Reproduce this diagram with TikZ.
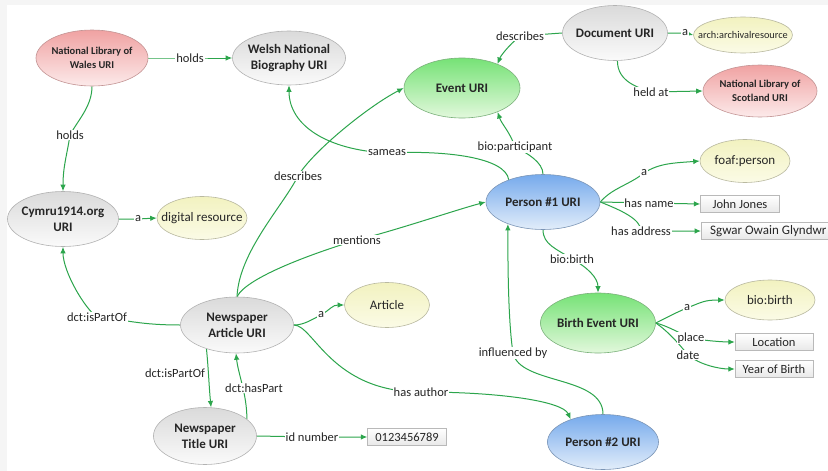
\documentclass[tikz,border=0pt]{standalone}
\usepackage{fontspec}
\setmainfont{Carlito}
\usetikzlibrary{shapes.geometric,arrows.meta}
\pgfdeclarelayer{bg}
\pgfdeclarelayer{edges}
\pgfsetlayers{bg,edges,main}
\definecolor{eg}{RGB}{44,165,76}
\definecolor{gtop}{RGB}{218,218,218}
\definecolor{gbot}{RGB}{250,250,250}
\definecolor{rtop}{RGB}{240,162,162}
\definecolor{rbot}{RGB}{252,234,234}
\definecolor{ntop}{RGB}{118,226,118}
\definecolor{nbot}{RGB}{226,248,220}
\definecolor{btop}{RGB}{118,170,236}
\definecolor{bbot}{RGB}{226,237,250}
\definecolor{ytop}{RGB}{242,242,192}
\definecolor{ybot}{RGB}{251,251,230}
\tikzset{
  ell/.style={ellipse, draw=gray!60, line width=0.6pt, inner sep=0pt},
  greyf/.style={top color=gtop, bottom color=gbot},
  redf/.style={top color=rtop, bottom color=rbot, draw=rtop!60!gray},
  greenf/.style={top color=ntop, bottom color=nbot, draw=ntop!50!gray},
  bluef/.style={top color=btop, bottom color=bbot, draw=btop!50!gray},
  yelf/.style={top color=ytop, bottom color=ybot, draw=ytop!50!gray},
  bt/.style={font=\fontsize{13}{16}\selectfont\bfseries, align=center, text=black!85},
  bts/.style={font=\fontsize{10.5}{13.5}\selectfont\bfseries, align=center, text=black!85},
  yt/.style={font=\fontsize{13}{15}\selectfont, text=black!85},
  lbl/.style={fill=white, inner sep=0.8pt, font=\fontsize{12.5}{14}\selectfont, text=black!85},
  vbox/.style={rectangle, draw=gray!55, top color=white, bottom color=gray!18, inner sep=0pt, minimum height=17pt, font=\fontsize{12.5}{14}\selectfont, text=black!85},
  arr/.style={draw=eg, line width=1pt, -{Latex[length=6.5pt,width=5.5pt]}}
}
\begin{document}
\begin{tikzpicture}[x=1pt,y=-1pt]
\useasboundingbox (0,0) rectangle (828,471);
\begin{pgfonlayer}{bg}
\fill[gray!8] (0,0) rectangle (828,471);
\fill[white] (7,5) rectangle (828,471);
\end{pgfonlayer}

% main nodes
\node[ell,redf,minimum width=112pt,minimum height=56pt,label={[bts]center:{National Library of\\Wales URI}}] (nlw) at (92,58) {};
\node[ell,greyf,minimum width=113pt,minimum height=54pt,label={[bt]center:{Welsh National\\Biography URI}}] (wnb) at (289,58) {};
\node[ell,greenf,minimum width=116pt,minimum height=60pt,label={[bt]center:{Event URI}}] (ev) at (462,88) {};
\node[ell,greyf,minimum width=105pt,minimum height=55pt,label={[bt]center:{Document URI}}] (doc) at (615,33) {};
\node[ell,yelf,minimum width=99pt,minimum height=36pt,label={[font=\fontsize{10.3}{12}\selectfont,text=black!85]center:{arch:archivalresource}}] (arch) at (743,35) {};
\node[ell,redf,minimum width=114pt,minimum height=52pt,label={[bts]center:{National Library of\\Scotland URI}}] (nls) at (760,91) {};
\node[ell,greyf,minimum width=111pt,minimum height=55pt,label={[bt]center:{Cymru1914.org\\URI}}] (cy) at (63,219) {};
\node[ell,yelf,minimum width=90pt,minimum height=43pt,label={[yt]center:{digital resource}}] (dig) at (202,218) {};
\node[ell,greyf,minimum width=113pt,minimum height=56pt,label={[bt]center:{Newspaper\\Article URI}}] (na) at (237,325) {};
\node[ell,yelf,minimum width=85pt,minimum height=45pt,label={[yt]center:{Article}}] (art) at (387,305) {};
\node[ell,greyf,minimum width=103pt,minimum height=57pt,label={[bt]center:{Newspaper\\Title URI}}] (nt) at (205,436) {};
\node[vbox,minimum width=79pt] (num) at (407,437) {0123456789};
\node[ell,bluef,minimum width=114pt,minimum height=55pt,label={[bt]center:{Person \#1 URI}}] (p1) at (543,202) {};
\node[ell,yelf,minimum width=90pt,minimum height=43pt,label={[yt]center:{foaf:person}}] (foaf) at (745,161) {};
\node[vbox,minimum width=79pt] (jj) at (740,204) {John Jones};
\node[vbox,anchor=west,inner xsep=9pt] (sg) at (701,231) {\makebox[124pt][l]{\fontsize{13}{14}\selectfont Sgwar Owain Glyndwr}};
\node[ell,greenf,minimum width=115pt,minimum height=60pt,label={[bt]center:{Birth Event URI}}] (be) at (598,323) {};
\node[ell,yelf,minimum width=90pt,minimum height=40pt,label={[yt]center:{bio:birth}}] (bb) at (770,300) {};
\node[vbox,minimum width=78pt] (loc) at (774,342) {Location};
\node[vbox,minimum width=78pt] (yob) at (774,369) {Year of Birth};
\node[ell,bluef,minimum width=111pt,minimum height=55pt,label={[bt]center:{Person \#2 URI}}] (p2) at (603,442) {};

% edge labels
\node[lbl] (L1) at (190,58) {holds};
\node[lbl] (L2) at (70,135) {holds};
\node[lbl] (L3) at (138,219) {a};
\node[lbl] (L4) at (97,317) {dct:isPartOf};
\node[lbl] (L5) at (298,176) {describes};
\node[lbl] (L6) at (357,240) {mentions};
\node[lbl] (L7) at (387,153) {sameas};
\node[lbl] (L8) at (515,147) {bio:participant};
\node[lbl] (L9) at (520,36) {describes};
\node[lbl] (L10) at (685,33) {a};
\node[lbl] (L11) at (651,92) {held at};
\node[lbl] (L12) at (644,173) {a};
\node[lbl] (L13) at (649,203) {has name};
\node[lbl] (L14) at (641,231) {has address};
\node[lbl] (L15) at (572,259) {bio:birth};
\node[lbl] (L16) at (687,308) {a};
\node[lbl] (L17) at (691,338) {place};
\node[lbl] (L18) at (688,355) {date};
\node[lbl] (L19) at (321,315) {a};
\node[lbl] (L20) at (421,392) {has author};
\node[lbl] (L21) at (513,353) {influenced by};
\node[lbl] (L22) at (175,373) {dct:isPartOf};
\node[lbl] (L23) at (254,388) {dct:hasPart};
\node[lbl] (L24) at (312,437) {id number};

\begin{pgfonlayer}{edges}
\draw[arr] (nlw.east) -- (L1.center) -- (wnb.west);
\draw[arr] (nlw.south) .. controls +(0,20) and +(8,-15) .. (L2.center) .. controls +(-3,20) and +(0,-25) .. (cy.north);
\draw[arr] (cy.east) -- (L3.center) -- (dig.west);
\draw[arr] (na.west) .. controls +(-40,0) and +(30,3) .. (L4.center) .. controls +(-12,-8) and +(0,25) .. (cy.south);
\draw[arr] (na.north) .. controls +(2,-45) and +(-15,30) .. (L5.center) .. controls +(15,-25) and +(-35,18) .. (ev.west);
\draw[arr] (na.north) .. controls +(10,-20) and +(-40,12) .. (L6.center) .. controls +(40,-10) and +(-30,8) .. (p1.west);
\draw[arr] (p1.147) .. controls +(-3,-22) and +(60,-3) .. (L7.center) .. controls +(-60,-3) and +(0,40) .. (wnb.south);
\draw[arr] (p1.north) .. controls +(0,-12) and +(12,6) .. (L8.center) .. controls +(-5,-15) and +(4,12) .. (ev.-34);
\draw[arr] (doc.west) -- (L9.center) .. controls +(-12,10) and +(3,-8) .. (ev.34);
\draw[arr] (doc.east) -- (L10.center) -- (arch.west);
\draw[arr] (doc.-85) .. controls +(0,20) and +(-15,-5) .. (L11.center) -- (nls.west);
\draw[arr] (p1.east) .. controls +(12,-14) and +(-15,12) .. (L12.center) .. controls +(15,-10) and +(-25,2) .. (foaf.west);
\draw[arr] (p1.east) -- (L13.center) -- (jj.west);
\draw[arr] (p1.east) .. controls +(20,8) and +(0,-12) .. (L14.center) -- (sg.west);
\draw[arr] (p1.south) .. controls +(0,15) and +(-15,-10) .. (L15.center) .. controls +(15,8) and +(0,-15) .. (be.north);
\draw[arr] (be.east) .. controls +(10,-5) and +(-12,5) .. (L16.center) .. controls +(15,-6) and +(-20,0) .. (bb.west);
\draw[arr] (be.east) .. controls +(12,3) and +(-12,-5) .. (L17.center) .. controls +(15,3) and +(-10,0) .. (loc.west);
\draw[arr] (be.east) .. controls +(12,8) and +(-8,-10) .. (L18.center) .. controls +(12,10) and +(-15,0) .. (yob.west);
\draw[arr] (na.east) .. controls +(10,0) and +(-10,5) .. (L19.center) .. controls +(10,-6) and +(-12,0) .. (art.west);
\draw[arr] (na.east) .. controls +(20,0) and +(-90,0) .. (L20.center) .. controls +(80,0) and +(-8,-18) .. (p2.145);
\draw[arr] (p2.north) .. controls +(0,-39) and +(7,32) .. (L21.center) .. controls +(-5,-33) and +(0,37) .. (p1.-148);
\draw[arr] (na.-142) .. controls +(2,20) and +(-2,-20) .. (nt.78);
\draw[arr] (nt.22) .. controls +(0,-25) and +(2,20) .. (na.-92);
\draw[arr] (nt.east) -- (L24.center) -- (num.west);
\end{pgfonlayer}
\end{tikzpicture}
\end{document}
